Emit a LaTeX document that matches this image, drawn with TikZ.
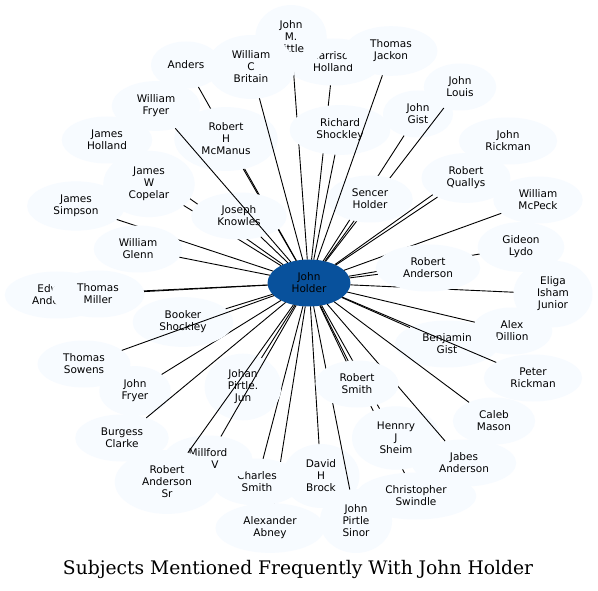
\documentclass[tikz,border=0pt]{standalone}
\usepackage{fontspec}
\usetikzlibrary{shapes.geometric}
\newfontfamily\dvs{DejaVu Sans}
\newfontfamily\dvserif{DejaVu Serif}
\definecolor{subjfill}{HTML}{F7FBFF}
\definecolor{hubfill}{HTML}{08519C}
\tikzset{
  subj/.style={ellipse, fill=subjfill, inner xsep=12pt, inner ysep=6.5pt, outer sep=0pt,
    minimum width=70pt, minimum height=47pt, align=center,
    font=\dvs\fontsize{10.5}{12}\selectfont, text=black},
  hub/.style={subj, fill=hubfill},
  link/.style={draw=black, line width=0.9pt},
}
\begin{document}
\begin{tikzpicture}[x=1pt,y=-1pt]
\useasboundingbox (0,0) rectangle (598,591);
\fill[white] (0,0) rectangle (598,591);
\node[hub] (J) at (309,283) {John\\Holder};
\node[subj] (HH) at (333,62) {Harrison\\Holland}; \draw[link] (J) -- (HH);
\node[subj] (JML) at (291,37) {John\\M.\\Little}; \draw[link] (J) -- (JML);
\node[subj, inner xsep=6pt] (AN) at (186,65) {Anders}; \draw[link] (J) -- (AN);
\node[subj] (RHM) at (226,139) {Robert\\H\\McManus}; \draw[link] (J) -- (RHM);
\node[subj] (WCB) at (251,67) {William\\C\\Britain}; \draw[link] (J) -- (WCB);
\node[subj] (RSh) at (340,130) {Richard\\Shockley}; \draw[link] (J) -- (RSh);
\node[subj] (JG) at (418,114) {John\\Gist}; \draw[link] (J) -- (JG);
\node[subj] (JL) at (460,87) {John\\Louis}; \draw[link] (J) -- (JL);
\node[subj] (SH) at (370,199) {Sencer\\Holder}; \draw[link] (J) -- (SH);
\node[subj] (TJ) at (391,51) {Thomas\\Jackon}; \draw[link] (J) -- (TJ);
\node[subj] (JR) at (508,141) {John\\Rickman}; \draw[link] (J) -- (JR);
\node[subj] (RQ) at (466,178) {Robert\\Quallys}; \draw[link] (J) -- (RQ);
\node[subj] (WM) at (538,200) {William\\McPeck}; \draw[link] (J) -- (WM);
\node[subj] (EIJ) at (553,294) {Eliga\\Isham\\Junior}; \draw[link] (J) -- (EIJ);
\node[subj] (GL) at (521,247) {Gideon\\Lydo}; \draw[link] (J) -- (GL);
\node[subj] (RA) at (428,268) {Robert\\Anderson}; \draw[link] (J) -- (RA);
\node[subj] (AD) at (512,331) {Alex\\Dillion}; \draw[link] (J) -- (AD);
\node[subj] (BG) at (447,344) {Benjamin\\Gist}; \draw[link] (J) -- (BG);
\node[subj] (PR) at (533,378) {Peter\\Rickman}; \draw[link] (J) -- (PR);
\node[subj] (CM) at (494,421) {Caleb\\Mason}; \draw[link] (J) -- (CM);
\node[subj] (DHB) at (321,476) {David\\H\\Brock}; \draw[link] (J) -- (DHB);
\node[subj] (CSw) at (416,496) {Christopher\\Swindle}; \draw[link] (J) -- (CSw);
\node[subj] (HJS) at (396,438) {Hennry\\J\\Sheim}; \draw[link] (J) -- (HJS);
\node[subj] (JA) at (464,463) {Jabes\\Anderson}; \draw[link] (J) -- (JA);
\node[subj] (JPS) at (356,521) {John\\Pirtle\\Sinor}; \draw[link] (J) -- (JPS);
\node[subj] (RSm) at (357,384) {Robert\\Smith}; \draw[link] (J) -- (RSm);
\node[subj] (AA) at (270,528) {Alexander\\Abney}; \draw[link] (J) -- (AA);
\node[subj] (CS) at (257,482) {Charles\\Smith}; \draw[link] (J) -- (CS);
\node[subj] (JPJ) at (243,387) {Johan\\Pirtle.\\Jun}; \draw[link] (J) -- (JPJ);
\node[subj] (MV) at (208,459) {Millford\\\hspace*{14pt}V}; \draw[link] (J) -- (MV);
\node[subj] (RASr) at (167,482) {Robert\\Anderson\\Sr}; \draw[link] (J) -- (RASr);
\node[subj] (JF) at (135,391) {John\\Fryer}; \draw[link] (J) -- (JF);
\node[subj] (BC) at (122,438) {Burgess\\Clarke}; \draw[link] (J) -- (BC);
\node[subj] (BS) at (183,322) {Booker\\Shockley}; \draw[link] (J) -- (BS);
\node[subj] (TS) at (84,364) {Thomas\\Sowens}; \draw[link] (J) -- (TS);
\node[subj] (EA) at (57,295) {Edward\\Anderson}; \draw[link] (J) -- (EA);
\node[subj] (TM) at (98,294) {Thomas\\Miller}; \draw[link] (J) -- (TM);
\node[subj] (JS) at (76,206) {James\\Simpson}; \draw[link] (J) -- (JS);
\node[subj] (WG) at (138,249) {William\\Glenn}; \draw[link] (J) -- (WG);
\node[subj] (JHo) at (107,140) {James\\Holland}; \draw[link] (J) -- (JHo);
\node[subj] (JWC) at (149,184) {James\\W\\Copelar}; \draw[link] (J) -- (JWC);
\node[subj] (JK) at (239,216) {Joseph\\Knowles}; \draw[link] (J) -- (JK);
\node[subj] (WF) at (156,106) {William\\Fryer}; \draw[link] (J) -- (WF);
\node[inner sep=0pt] (title) at (298,569) {\resizebox{470pt}{!}{\dvserif Subjects Mentioned Frequently With John Holder}};
\end{tikzpicture}
\end{document}
